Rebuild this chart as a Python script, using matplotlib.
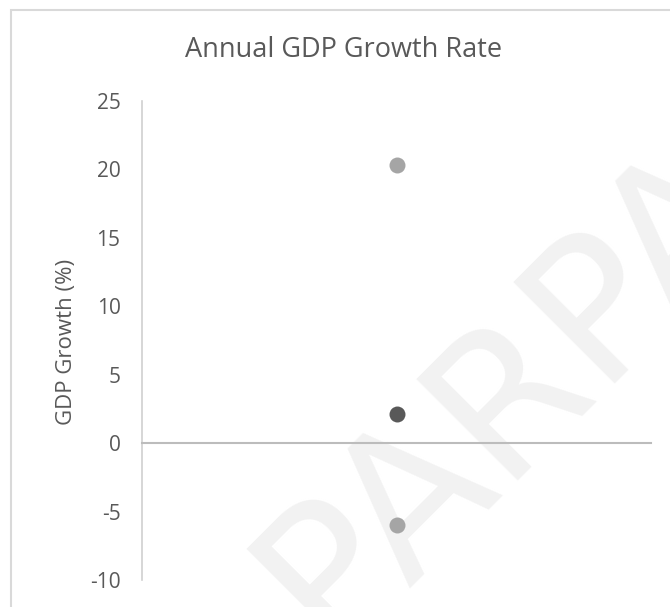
import matplotlib
matplotlib.use("Agg")
import matplotlib.pyplot as plt
from matplotlib.patches import Rectangle

# Data
categories = [1]
series_high = [20.3]
series_mid = [2.1]
series_low = [-6.0]
y_ticks = [-10, -5, 0, 5, 10, 15, 20, 25]

W, H, DPI = 670, 607, 100
fig = plt.figure(figsize=(W / DPI, H / DPI), dpi=DPI)
fig.patch.set_facecolor("white")

plt.rcParams["font.family"] = ["Open Sans", "DejaVu Sans"]

# Chart area border
fig.add_artist(Rectangle((11 / W, -0.1), 1.2, 1 - 10 / H + 0.1,
                         transform=fig.transFigure, fill=False,
                         edgecolor="#d9d9d9", linewidth=1.5, zorder=0))

# Watermark
fig.text(329 / W, 1 - 650 / H, "PARPA", rotation=45, rotation_mode="anchor",
         ha="left", va="baseline", fontsize=142, color="#f2f2f2",
         family="DejaVu Sans", zorder=0.5)

ax = fig.add_axes([142 / W, 1 - 580 / H, (651 - 142) / W, (580 - 101) / H])
ax.set_facecolor("none")
ax.set_zorder(2)

gray_light = "#a5a5a5"
gray_dark = "#595959"
ax.plot(categories, series_high, "o", color=gray_light, ms=11.5, mec="none")
ax.plot(categories, series_mid, "o", color=gray_dark, ms=11.5, mec="none")
ax.plot(categories, series_low, "o", color=gray_light, ms=11.5, mec="none")

ax.set_xlim(0.5, 1.5)
ax.set_ylim(-10, 25)
ax.set_yticks(y_ticks)
ax.set_yticklabels([str(v) for v in y_ticks])
ax.set_xticks([])

for s in ("top", "right"):
    ax.spines[s].set_visible(False)
ax.spines["left"].set_color("#d0d0d0")
ax.spines["left"].set_linewidth(1.2)
ax.spines["bottom"].set_position(("data", 0))
ax.spines["bottom"].set_color("#bcbcbc")
ax.spines["bottom"].set_linewidth(1.5)

ax.tick_params(axis="y", length=0, pad=15.5, labelsize=15, labelcolor="#595959")
ax.set_ylabel("GDP Growth (%)", fontsize=16, color="#595959")
ax.yaxis.set_label_coords(-0.128, 0.498)

fig.text(344 / W, 1 - 50 / H, "Annual GDP Growth Rate", ha="center",
         va="center", fontsize=19.5, color="#595959")

fig.savefig("out.png", dpi=DPI)
